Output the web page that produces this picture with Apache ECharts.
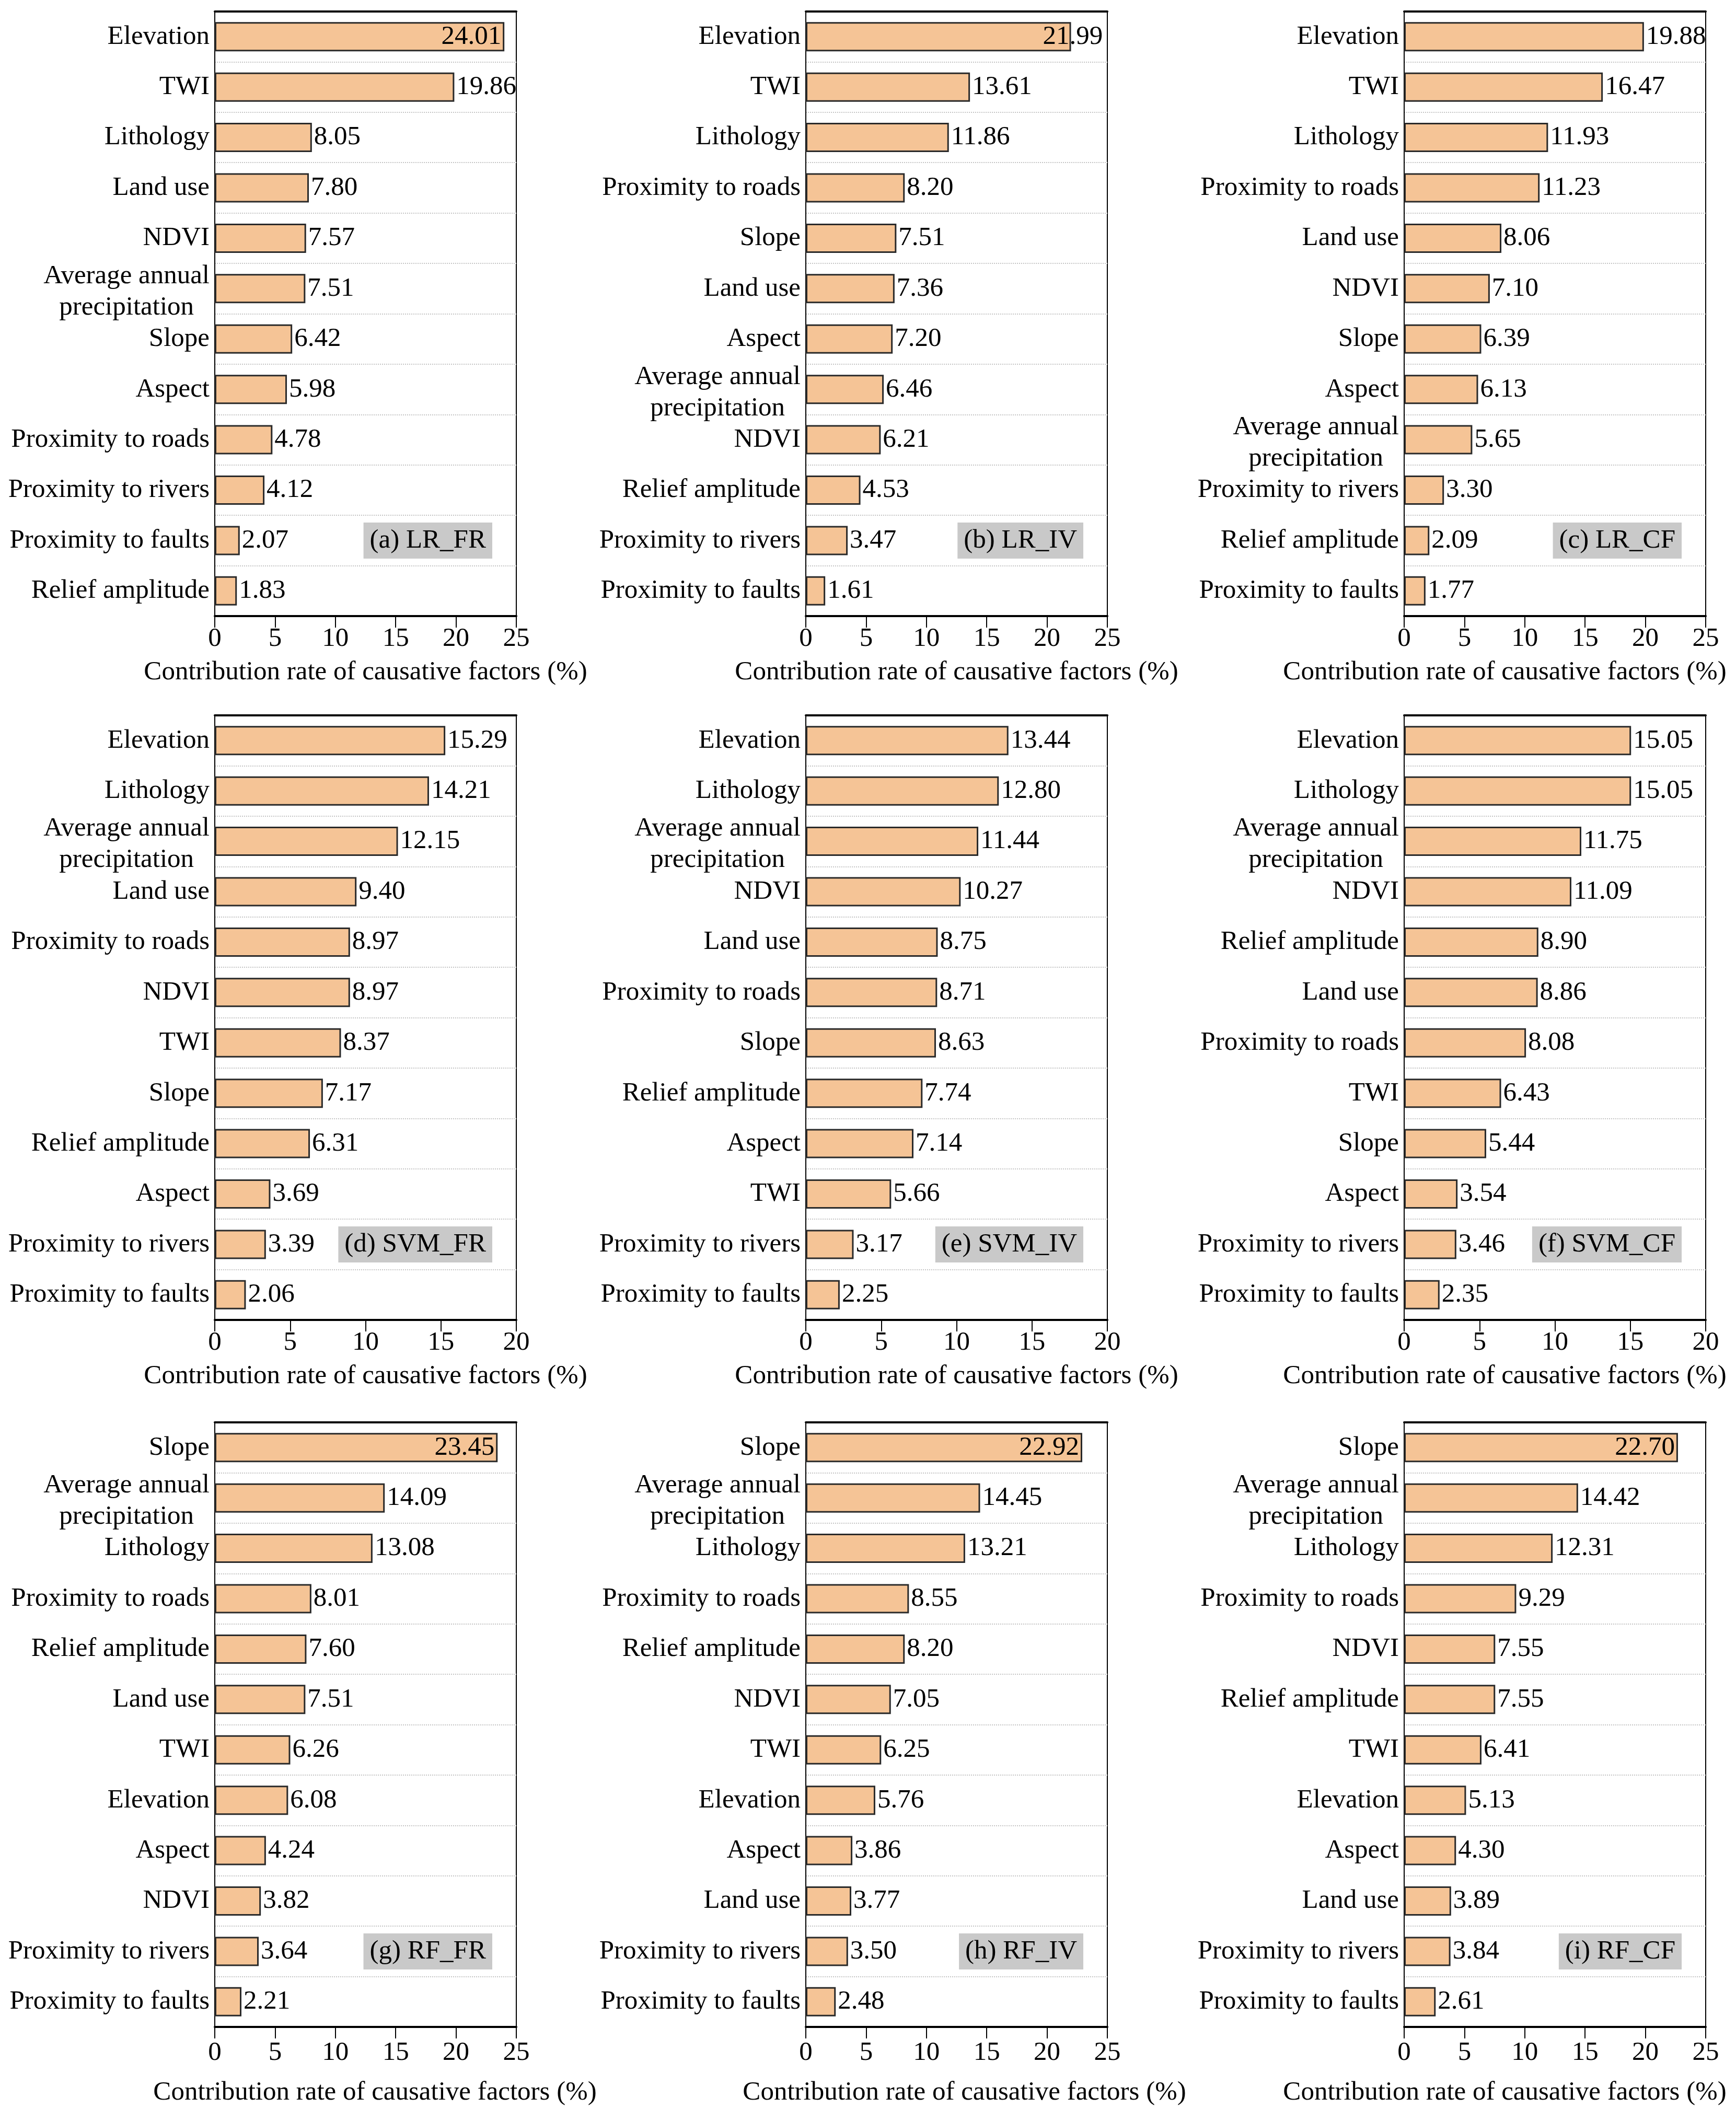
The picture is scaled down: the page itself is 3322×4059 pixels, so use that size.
<!DOCTYPE html>
<html><head><meta charset="utf-8">
<script src="https://cdn.jsdelivr.net/npm/echarts@6/dist/echarts.min.js"></script>
<style>html,body{margin:0;padding:0;background:#fff}#c{width:3322px;height:4059px}</style>
</head><body><div id="c"></div>
<script>
// ---------- data ----------
const AAP = 'Average annual\nprecipitation';
const namesA = ['Elevation','TWI','Lithology','Land use','NDVI',AAP,'Slope','Aspect','Proximity to roads','Proximity to rivers','Proximity to faults','Relief amplitude'];
const valuesA = [24.01,19.86,8.05,7.80,7.57,7.51,6.42,5.98,4.78,4.12,2.07,1.83];
const namesB = ['Elevation','TWI','Lithology','Proximity to roads','Slope','Land use','Aspect',AAP,'NDVI','Relief amplitude','Proximity to rivers','Proximity to faults'];
const valuesB = [21.99,13.61,11.86,8.20,7.51,7.36,7.20,6.46,6.21,4.53,3.47,1.61];
const namesC = ['Elevation','TWI','Lithology','Proximity to roads','Land use','NDVI','Slope','Aspect',AAP,'Proximity to rivers','Relief amplitude','Proximity to faults'];
const valuesC = [19.88,16.47,11.93,11.23,8.06,7.10,6.39,6.13,5.65,3.30,2.09,1.77];
const namesD = ['Elevation','Lithology',AAP,'Land use','Proximity to roads','NDVI','TWI','Slope','Relief amplitude','Aspect','Proximity to rivers','Proximity to faults'];
const valuesD = [15.29,14.21,12.15,9.40,8.97,8.97,8.37,7.17,6.31,3.69,3.39,2.06];
const namesE = ['Elevation','Lithology',AAP,'NDVI','Land use','Proximity to roads','Slope','Relief amplitude','Aspect','TWI','Proximity to rivers','Proximity to faults'];
const valuesE = [13.44,12.80,11.44,10.27,8.75,8.71,8.63,7.74,7.14,5.66,3.17,2.25];
const namesF = ['Elevation','Lithology',AAP,'NDVI','Relief amplitude','Land use','Proximity to roads','TWI','Slope','Aspect','Proximity to rivers','Proximity to faults'];
const valuesF = [15.05,15.05,11.75,11.09,8.90,8.86,8.08,6.43,5.44,3.54,3.46,2.35];
const namesG = ['Slope',AAP,'Lithology','Proximity to roads','Relief amplitude','Land use','TWI','Elevation','Aspect','NDVI','Proximity to rivers','Proximity to faults'];
const valuesG = [23.45,14.09,13.08,8.01,7.60,7.51,6.26,6.08,4.24,3.82,3.64,2.21];
const namesH = ['Slope',AAP,'Lithology','Proximity to roads','Relief amplitude','NDVI','TWI','Elevation','Aspect','Land use','Proximity to rivers','Proximity to faults'];
const valuesH = [22.92,14.45,13.21,8.55,8.20,7.05,6.25,5.76,3.86,3.77,3.50,2.48];
const namesI = ['Slope',AAP,'Lithology','Proximity to roads','NDVI','Relief amplitude','TWI','Elevation','Aspect','Land use','Proximity to rivers','Proximity to faults'];
const valuesI = [22.70,14.42,12.31,9.29,7.55,7.55,6.41,5.13,4.30,3.89,3.84,2.61];
const tags = ['(a) LR_FR','(b) LR_IV','(c) LR_CF','(d) SVM_FR','(e) SVM_IV','(f) SVM_CF','(g) RF_FR','(h) RF_IV','(i) RF_CF'];
const ticksRow1 = [0,5,10,15,20,25];
const ticksRow2 = [0,5,10,15,20];
const ticksRow3 = [0,5,10,15,20,25];
const axisTitle = 'Contribution rate of causative factors (%)';

// ---------- layout / style ----------
const FONT = 'Liberation Serif';
const FS = 51;
const colLeft = [411, 1542, 2687];
const rowTop = [22, 1369, 2722];
const PW = 577, PH = 1157;
const W = 3322;
const rowTicks = [ticksRow1, ticksRow2, ticksRow3];
const labelMargins = [18, 18, 24];
const nameGaps = [82, 82, 100];

const panels = [
  {names: namesA, values: valuesA, top: 'inside'},
  {names: namesB, values: valuesB, top: 'straddle'},
  {names: namesC, values: valuesC, top: null},
  {names: namesD, values: valuesD, top: null},
  {names: namesE, values: valuesE, top: null},
  {names: namesF, values: valuesF, top: null},
  {names: namesG, values: valuesG, top: 'inside'},
  {names: namesH, values: valuesH, top: 'inside'},
  {names: namesI, values: valuesI, top: 'inside'}
];

const grid = [], xAxis = [], yAxis = [], series = [], title = [];
panels.forEach((p, k) => {
  const r = Math.floor(k / 3), c = k % 3;
  const ticks = rowTicks[r];
  const mn = ticks[0], mx = ticks[ticks.length - 1], iv = ticks[1] - ticks[0];
  grid.push({left: colLeft[c], top: rowTop[r], width: PW, height: PH,
    show: true, borderColor: '#000', borderWidth: 2, backgroundColor: 'transparent'});
  let namePad = [0, 0, 0, 0];
  if (c === 2) namePad = [0, 192, 0, 0];
  else if (r === 2 && c === 0) namePad = [0, 0, 0, 36];
  else if (r === 2 && c === 1) namePad = [0, 0, 0, 30];
  xAxis.push({
    gridIndex: k, type: 'value', position: 'bottom', min: mn, max: mx, interval: iv,
    axisLine: {show: true, lineStyle: {color: '#000', width: 4}},
    axisTick: {show: true, inside: false, length: 22, lineStyle: {color: '#000', width: 2}},
    axisLabel: {show: true, margin: labelMargins[r], color: '#000', fontFamily: FONT, fontSize: FS},
    splitLine: {show: false},
    name: axisTitle, nameLocation: 'middle', nameGap: nameGaps[r],
    nameTextStyle: {color: '#000', fontFamily: FONT, fontSize: FS, padding: namePad}
  });
  xAxis.push({
    gridIndex: k, type: 'value', position: 'top', min: mn, max: mx, interval: iv,
    axisLine: {show: true, lineStyle: {color: '#000', width: 4}},
    axisTick: {show: false}, axisLabel: {show: false}, splitLine: {show: false}
  });
  const catData = p.names.map(n => n.indexOf('\n') >= 0
    ? {value: n, textStyle: {padding: [12, 0, 0, 0]}} : n);
  yAxis.push({
    gridIndex: k, type: 'category', inverse: true, data: catData,
    axisLine: {show: true, lineStyle: {color: '#000', width: 2}},
    axisTick: {show: false},
    axisLabel: {
      margin: 10, color: '#000', fontFamily: FONT, fontSize: FS, lineHeight: 60,
      formatter: v => v.indexOf('\n') >= 0 ? v.split('\n').map(s => '{c|' + s + '}').join('\n') : v,
      rich: {c: {align: 'center', color: '#000', fontFamily: FONT, fontSize: FS, lineHeight: 60}}
    },
    splitLine: {show: true, lineStyle: {type: 'dotted', color: '#c4c4c4', width: 2}}
  });
  const data = p.values.map((v, i) => {
    if (i === 0 && p.top === 'inside') {
      return {value: v, label: {position: 'insideRight', distance: 6}};
    }
    if (i === 0 && p.top === 'straddle') {
      return {value: v, label: {position: 'right', distance: 0, offset: [-54, 0]}};
    }
    return v;
  });
  series.push({
    type: 'bar', xAxisIndex: 2 * k, yAxisIndex: k, data: data, barWidth: 56,
    itemStyle: {color: '#F5C496', borderColor: '#2a2a2a', borderWidth: 3},
    label: {show: true, position: 'right', distance: 4, color: '#000', fontFamily: FONT, fontSize: FS,
      formatter: q => Number(q.value).toFixed(2)},
    silent: true
  });
  const bandH = PH / 12;
  title.push({
    text: tags[k],
    right: W - (colLeft[c] + PW - 46),
    top: rowTop[r] + bandH * 10.5 - 34.5,
    backgroundColor: '#c9c9c9', padding: [9, 12],
    textStyle: {color: '#000', fontFamily: FONT, fontSize: FS, fontWeight: 'normal', lineHeight: 51}
  });
});

const chart = echarts.init(document.getElementById('c'), null, {renderer: 'canvas'});
chart.setOption({animation: false, backgroundColor: '#fff', title, grid, xAxis, yAxis, series});
</script></body></html>
